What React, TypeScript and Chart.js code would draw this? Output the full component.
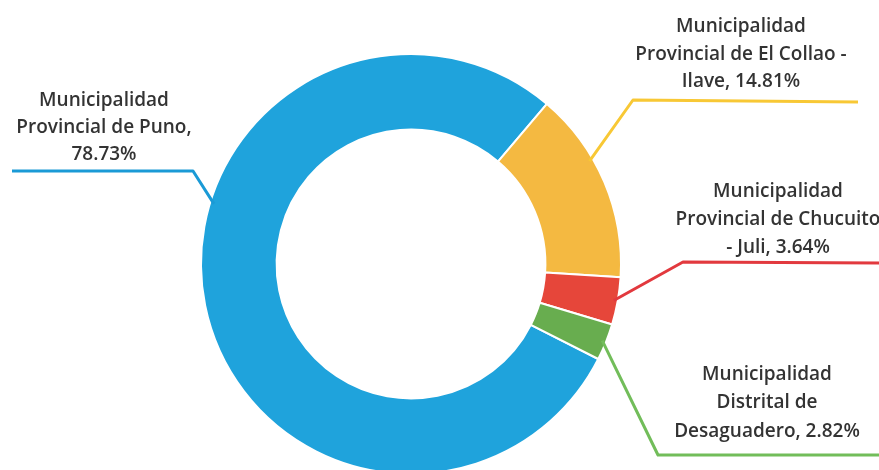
import React, { useEffect, useRef } from "react";
import { Chart, registerables } from "chart.js";

Chart.register(...registerables);

const categories = [
  "Municipalidad Provincial de Puno",
  "Municipalidad Provincial de El Collao - Ilave",
  "Municipalidad Provincial de Chucuito - Juli",
  "Municipalidad Distrital de Desaguadero",
];
const shares = [78.73, 14.81, 3.64, 2.82];
const labelLines = [
  ["Municipalidad", "Provincial de Puno,", "78.73%"],
  ["Municipalidad", "Provincial de El Collao -", "Ilave, 14.81%"],
  ["Municipalidad", "Provincial de Chucuito", "- Juli, 3.64%"],
  ["Municipalidad", "Distrital de", "Desaguadero, 2.82%"],
];
const fillColors = ["#1fa3dc", "#f4b941", "#e6463a", "#68ad4f"];
const lineColors = ["#1a9ad6", "#f8c835", "#e2393e", "#72bd5a"];

// label layout (pixels in canvas space)
const labelLayout = [
  { frac: 0.6, elbow: [193, 171], end: [12, 171], tx: 104, ty: [101, 128, 155] },
  { frac: 0.37, elbow: [633, 100], end: [858, 102], tx: 741, ty: [27, 55, 82] },
  { frac: 0.5, elbow: [683, 262], end: [880, 263], tx: 778, ty: [192, 220, 248] },
  { frac: 0.5, elbow: [658, 455], end: [880, 455], tx: 767, ty: [375, 403, 432] },
];

const leaderPlugin = {
  id: "leaders",
  afterDatasetsDraw(chart: any) {
    const ctx = chart.ctx;
    const meta = chart.getDatasetMeta(0);
    meta.data.forEach((arc: any, i: number) => {
      const L = labelLayout[i];
      const { x, y, startAngle, endAngle, outerRadius } = arc.getProps(
        ["x", "y", "startAngle", "endAngle", "outerRadius"],
        true
      );
      const a = startAngle + (endAngle - startAngle) * L.frac;
      const r = outerRadius - 4;
      const ax = x + Math.cos(a) * r;
      const ay = y + Math.sin(a) * r;
      ctx.save();
      ctx.strokeStyle = lineColors[i];
      ctx.lineWidth = 3;
      ctx.lineJoin = "round";
      ctx.beginPath();
      ctx.moveTo(ax, ay);
      ctx.lineTo(L.elbow[0], L.elbow[1]);
      ctx.lineTo(L.end[0], L.end[1]);
      ctx.stroke();
      ctx.fillStyle = "#333333";
      ctx.font = "600 19px 'Open Sans'";
      ctx.textAlign = "center";
      ctx.textBaseline = "middle";
      labelLines[i].forEach((t, k) => ctx.fillText(t, L.tx, L.ty[k]));
      ctx.restore();
    });
  },
};

export default function App() {
  const ref = useRef<HTMLCanvasElement>(null);
  useEffect(() => {
    const chart = new Chart(ref.current!, {
      type: "doughnut",
      data: {
        labels: categories,
        datasets: [
          {
            data: shares,
            backgroundColor: fillColors,
            borderColor: "#ffffff",
            borderWidth: 2,
          },
        ],
      },
      options: {
        responsive: false,
        animation: false,
        cutout: "64%",
        rotation: 116.9,
        layout: { padding: { left: 200, right: 257, top: 53, bottom: 25 } },
        plugins: { legend: { display: false }, tooltip: { enabled: false } },
      },
      plugins: [leaderPlugin],
    });
    return () => chart.destroy();
  }, []);
  return (
    <div
      style={{
        position: "fixed",
        left: 0,
        top: 0,
        width: 879,
        height: 470,
        overflow: "hidden",
        background: "#fff",
      }}
    >
      <canvas ref={ref} width={879} height={500} style={{ display: "block" }} />
    </div>
  );
}
